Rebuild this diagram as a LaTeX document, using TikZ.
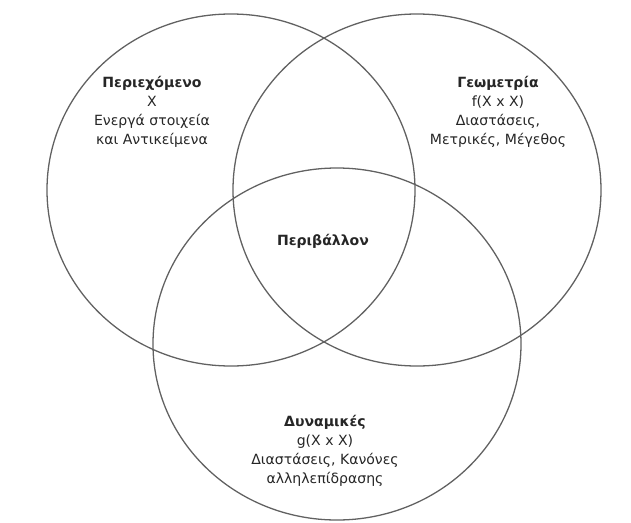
\documentclass[tikz,border=0pt]{standalone}
\usepackage{fontspec}
\setmainfont{DejaVu Sans}
\usetikzlibrary{shapes.geometric}
\definecolor{setLine}{rgb}{0.38 0.38 0.38}
\definecolor{setText}{rgb}{0.15 0.15 0.15}

\begin{document}
\begin{tikzpicture}[x=0.03cm,y=-0.03cm,
    set/.style={ellipse,draw=setLine,line width=1.1pt,inner sep=0pt,
      minimum width=11.04cm,minimum height=10.56cm},
    setlabel/.style={align=center,text=setText,inner sep=0pt,
      font=\fontsize{12}{16.4}\selectfont}]

      \useasboundingbox (0,0) rectangle (631,523);

      % draw the three sets
      \foreach \name/\cx/\cy in {content/231/190, geometry/417/190, dynamics/337/344}
        \node[set] (\name) at (\cx,\cy) {};

      % label each set
      \node[setlabel] (contentLabel) at (152,112)
        {\textbf{Περιεχόμενο}\\X\\Ενεργά στοιχεία\\και Αντικείμενα};
      \node[setlabel] (geometryLabel) at (498,112)
        {\textbf{Γεωμετρία}\\f(X x X)\\Διαστάσεις,\\Μετρικές, Μέγεθος};
      \node[setlabel] (dynamicsLabel) at (325,451)
        {\textbf{Δυναμικές}\\g(X x X)\\Διαστάσεις, Κανόνες\\αλληλεπίδρασης};

      % label the common part
      \node[setlabel] (environmentLabel) at (323,241) {\textbf{Περιβάλλον}};

\end{tikzpicture}
\end{document}
